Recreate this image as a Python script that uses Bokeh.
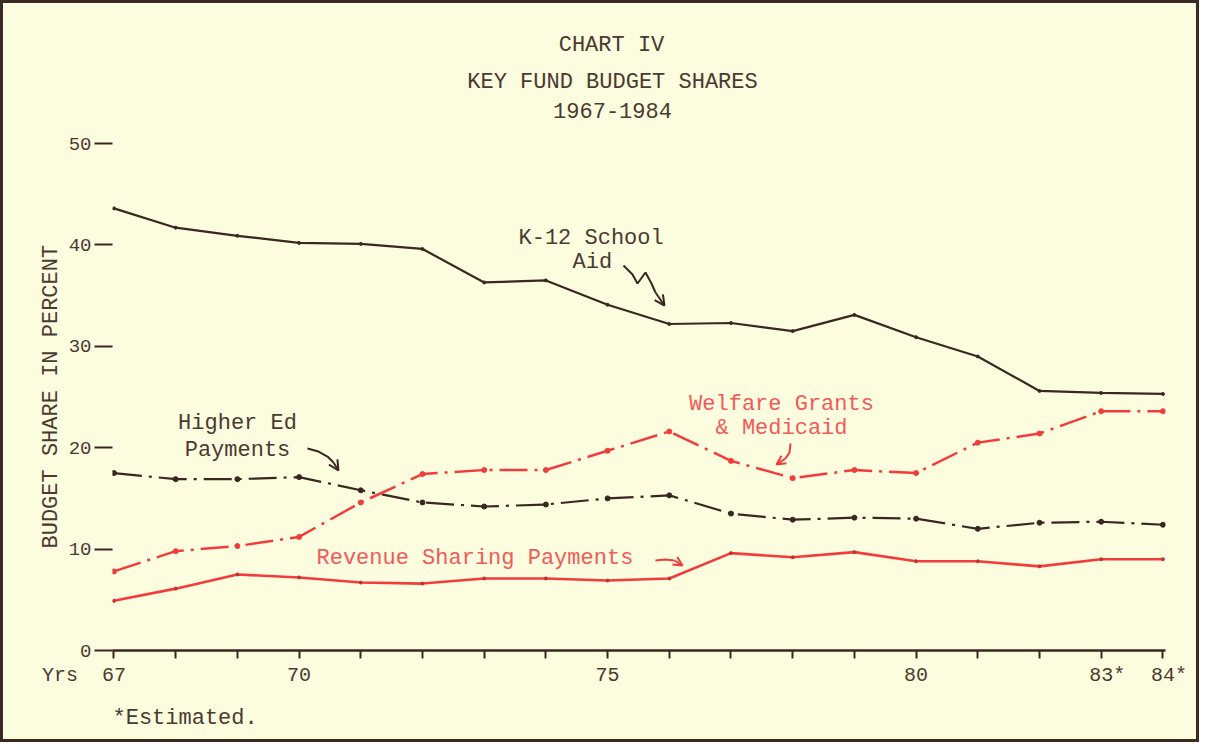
from bokeh.plotting import figure
from bokeh.models import Label, FixedTicker, Range1d, Arrow, OpenHead, Title
from bokeh.embed import file_html
from bokeh.resources import INLINE

# ---------------- data ----------------
years = [67, 68, 69, 70, 71, 72, 73, 74, 75, 76, 77, 78, 79, 80, 81, 82, 83, 84]
k12_school_aid = [43.6, 41.7, 40.9, 40.2, 40.1, 39.6, 36.3, 36.5, 34.1, 32.2,
                  32.3, 31.5, 33.1, 30.9, 29.0, 25.6, 25.4, 25.3]
higher_ed = [17.5, 16.9, 16.9, 17.1, 15.8, 14.6, 14.2, 14.4, 15.0, 15.3,
             13.5, 12.9, 13.1, 13.0, 12.0, 12.6, 12.7, 12.4]
welfare_medicaid = [7.8, 9.8, 10.3, 11.2, 14.6, 17.4, 17.8, 17.8, 19.7, 21.6,
                    18.7, 17.0, 17.8, 17.5, 20.5, 21.4, 23.6, 23.6]
revenue_sharing = [4.9, 6.1, 7.5, 7.2, 6.7, 6.6, 7.1, 7.1, 6.9, 7.1,
                   9.6, 9.2, 9.7, 8.8, 8.8, 8.3, 9.0, 9.0]
y_ticks = [0, 10, 20, 30, 40, 50]
NB = "\u00a0"
x_tick_labels = {67: "Yrs" + NB * 2 + "67" + NB * 5, 70: "70", 75: "75", 80: "80",
                 83: NB + "83*", 84: NB + "84*"}

# ---------------- style ----------------
BG = "#fcfcdf"
INK = "#3a2820"
TXT = "#4a3a30"
RED = "#f23c3c"
RED_TXT = "#f25a5a"
FONT = "Liberation Mono"

p = figure(width=1199, height=742, output_backend="svg", toolbar_location=None,
           x_range=Range1d(66.976, 84.042), y_range=Range1d(0, 63.02),
           min_border_left=109, min_border_right=37, min_border_top=8,
           min_border_bottom=95)
p.styles = {"border": "3px solid #3b2a22"}
p.background_fill_color = BG
p.border_fill_color = BG
p.outline_line_color = None
p.grid.visible = False

# axes
xa = p.xaxis[0]
xa.ticker = FixedTicker(ticks=years)
xa.major_label_overrides = {y: x_tick_labels.get(y, "") for y in years}
xa.axis_line_color = INK
xa.axis_line_width = 2.5
xa.major_tick_line_color = INK
xa.major_tick_line_width = 2
xa.major_tick_in = 0
xa.major_tick_out = 8
xa.minor_tick_line_color = None
xa.major_label_standoff = 5
xa.major_label_text_font = FONT
xa.major_label_text_font_size = "20px"
xa.major_label_text_color = TXT

ya = p.yaxis[0]
ya.ticker = FixedTicker(ticks=y_ticks)
ya.axis_line_color = None
ya.major_tick_line_color = INK
ya.major_tick_line_width = 2
ya.major_tick_in = 0
ya.major_tick_out = 18
ya.minor_tick_line_color = None
ya.major_label_standoff = 3
ya.major_label_text_font = FONT
ya.major_label_text_font_size = "19px"
ya.major_label_text_color = TXT

# side texts as titles (outside the frame)
p.add_layout(Title(text="BUDGET SHARE IN PERCENT", align="left", offset=102,
                   text_font=FONT, text_font_size="22px", text_font_style="normal",
                   text_color=TXT, standoff=4), "left")
p.add_layout(Title(text="*Estimated.", align="left", offset=0,
                   text_font=FONT, text_font_size="22px", text_font_style="normal",
                   text_color=TXT, standoff=28), "below")

# ---------------- series ----------------
p.line(years, k12_school_aid, line_color=INK, line_width=2.2)
p.scatter(years, k12_school_aid, size=3, color=INK)

p.line(years, higher_ed, line_color=INK, line_width=2.2, line_dash="28 7 3 7")
p.scatter(years, higher_ed, size=5, color=INK)

p.line(years, welfare_medicaid, line_color=RED, line_width=2.5, line_dash="28 7 3 7")
p.scatter(years, welfare_medicaid, size=5, color=RED)

p.line(years, revenue_sharing, line_color=RED, line_width=2.6)
p.scatter(years, revenue_sharing, size=3, color="#c83030")


# ---------------- annotations (page pixel -> data) ----------------
def dx(px):
    return 67 + (px - 113.5) / 61.7


def dy(py):
    return (650 - py) / 10.14


def lab(text, px, py, color=TXT, size="22px", align="left"):
    p.add_layout(Label(x=dx(px), y=dy(py), text=text, text_color=color,
                       text_font=FONT, text_font_size=size, text_align=align,
                       text_baseline="middle"))


lab("CHART IV", 611, 45, align="center")
lab("KEY FUND BUDGET SHARES", 612, 82, align="center")
lab("1967-1984", 612, 110, align="center")
lab("K-12 School", 518, 238)
lab("Aid", 572, 262)
lab("Higher Ed", 237, 423, align="center")
lab("Payments", 237, 450, align="center")
lab("Welfare Grants", 781, 404, color=RED_TXT, align="center")
lab("& Medicaid", 781, 428, color=RED_TXT, align="center")
lab("Revenue Sharing Payments", 316, 558, color=RED_TXT)

# hand-drawn pointer arrows
sq_x = [dx(v) for v in (623, 632, 637, 645, 651, 655)]
sq_y = [dy(v) for v in (265, 274, 283, 272, 283, 292)]
p.line(sq_x, sq_y, line_color=INK, line_width=2)
p.add_layout(Arrow(end=OpenHead(size=10, line_color=INK, line_width=2),
                   x_start=dx(655), y_start=dy(292), x_end=dx(664), y_end=dy(305),
                   line_color=INK, line_width=2))

he_x = [dx(v) for v in (307, 318, 327, 333)]
he_y = [dy(v) for v in (448, 451, 456, 462)]
p.line(he_x, he_y, line_color=INK, line_width=2)
p.add_layout(Arrow(end=OpenHead(size=10, line_color=INK, line_width=2),
                   x_start=dx(333), y_start=dy(462), x_end=dx(338), y_end=dy(470),
                   line_color=INK, line_width=2))

wf_x = [dx(v) for v in (790, 789, 785)]
wf_y = [dy(v) for v in (443, 452, 458)]
p.line(wf_x, wf_y, line_color=RED, line_width=2)
p.add_layout(Arrow(end=OpenHead(size=9, line_color=RED, line_width=2),
                   x_start=dx(785), y_start=dy(458), x_end=dx(776), y_end=dy(464),
                   line_color=RED, line_width=2))

rv_x = [dx(v) for v in (655, 665, 674)]
rv_y = [dy(v) for v in (560, 559, 560)]
p.line(rv_x, rv_y, line_color=RED, line_width=2)
p.add_layout(Arrow(end=OpenHead(size=9, line_color=RED, line_width=2),
                   x_start=dx(674), y_start=dy(560), x_end=dx(682), y_end=dy(565),
                   line_color=RED, line_width=2))

open("out.html", "w").write(file_html(p, INLINE))
